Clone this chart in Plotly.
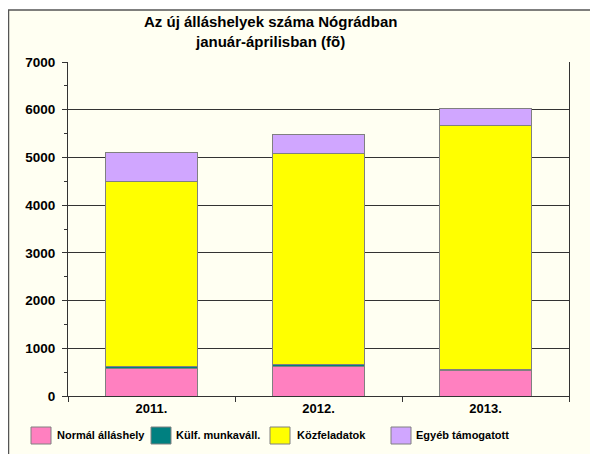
import plotly.graph_objects as go

years = ["2011.", "2012.", "2013."]
normal = [566, 610, 545]
kulf = [42, 45, 15]
kozfeladat = [3890, 4432, 5107]
egyeb = [602, 392, 363]

series_names = ["Normál álláshely", "Külf. munkaváll.", "Közfeladatok", "Egyéb támogatott"]
series_values = [normal, kulf, kozfeladat, egyeb]
series_colors = ["#FF80C0", "#008080", "#FFFF00", "#D0A6FF"]

y_ticks = [0, 1000, 2000, 3000, 4000, 5000, 6000, 7000]

# page body has an 8px margin; figure coordinates are page coordinates minus OFF
OFF = 8
W, H = 598 - OFF, 454 - OFF
L, R, T, B = 68 - OFF, 598 - 569, 62 - OFF, 454 - 396
pw, ph = W - L - R, H - T - B


def px_x(x):
    return (x - OFF - L) / pw


def px_y(y):
    return (H - B - (y - OFF)) / ph


font_family = "Liberation Sans, Arial, sans-serif"
ivory = "#FFFFF2"
dark = "#333333"

fig = go.Figure()
for name, vals, col in zip(series_names, series_values, series_colors):
    fig.add_trace(go.Bar(
        x=years, y=vals, name=name,
        marker=dict(color=col, line=dict(color="#808080", width=1)),
    ))

# legend layout (page pixels)
legend_box_x = [31, 151, 270, 391]
legend_text_x = [55, 174, 295, 414]

shapes = [
    dict(type="rect", xref="paper", yref="paper",
         x0=px_x(8.5), x1=px_x(800), y0=px_y(700), y1=px_y(10),
         fillcolor=ivory, line=dict(color="#555555", width=1.5), layer="below"),
]
annotations = [
    dict(text="Az új álláshelyek száma Nógrádban",
         xref="paper", yref="paper", x=px_x(270), y=px_y(22),
         xanchor="center", yanchor="middle", showarrow=False,
         font=dict(family=font_family, size=15, color="black", weight="bold")),
    dict(text="január-áprilisban (fõ)",
         xref="paper", yref="paper", x=px_x(270), y=px_y(42),
         xanchor="center", yanchor="middle", showarrow=False,
         font=dict(family=font_family, size=15, color="black", weight="bold")),
]
for name, col, bx, tx in zip(series_names, series_colors, legend_box_x, legend_text_x):
    shapes.append(dict(type="rect", xref="paper", yref="paper",
                       x0=px_x(bx), x1=px_x(bx + 20), y0=px_y(444), y1=px_y(427),
                       fillcolor=col, line=dict(color="#808080", width=1)))
    annotations.append(dict(text=name, xref="paper", yref="paper",
                            x=px_x(tx), y=px_y(435), xanchor="left", yanchor="middle",
                            showarrow=False,
                            font=dict(family=font_family, size=11, color="black", weight="bold")))

fig.update_layout(
    width=W, height=H,
    barmode="stack",
    bargap=0.45,
    margin=dict(l=L, r=R, t=T, b=B, pad=0),
    paper_bgcolor="white",
    plot_bgcolor=ivory,
    font=dict(family=font_family, size=11, color="black"),
    showlegend=False,
    xaxis=dict(
        type="category",
        showgrid=False,
        showline=True, linecolor=dark, linewidth=1,
        ticks="outside", tickson="boundaries", ticklen=5, tickcolor=dark,
        tickfont=dict(family=font_family, size=13, color="black", weight="bold"),
        zeroline=False,
    ),
    yaxis=dict(
        range=[0, 7000],
        tickvals=y_ticks,
        showgrid=True, gridcolor=dark, gridwidth=1,
        showline=True, linecolor=dark, linewidth=1, mirror=True,
        ticks="outside", ticklen=5, tickcolor=dark,
        minor=dict(dtick=500, ticks="outside", ticklen=3, tickcolor=dark, showgrid=False),
        tickfont=dict(family=font_family, size=13.5, color="black", weight="bold"),
        ticklabelstandoff=4,
        zeroline=False,
    ),
    shapes=shapes,
    annotations=annotations,
)

fig.write_html("out.html")
